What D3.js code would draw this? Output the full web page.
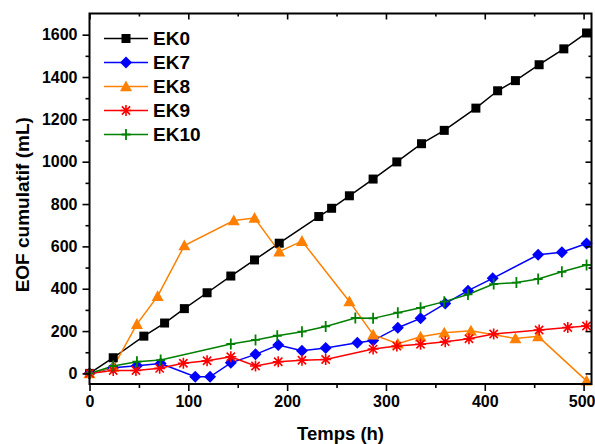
<!DOCTYPE html>
<html><head><meta charset="utf-8">
<script src="https://cdn.jsdelivr.net/npm/d3@7"></script>
<style>body{margin:0;background:#fff}svg{display:block}text{font-family:"Liberation Sans",Arial,sans-serif;font-weight:bold}</style>
</head><body><svg id="c" width="595" height="444"></svg>
<script>
// ---- data ----
const seriesNames = ["EK0", "EK7", "EK8", "EK9", "EK10"];
const ek0_t = [0, 24, 55, 76, 96, 119, 143, 167, 192, 232, 245, 263, 287, 311, 336, 359, 391, 413, 431, 455, 480, 503];
const ek0_v = [0, 74, 176, 238, 306, 381, 460, 536, 615, 741, 780, 839, 918, 999, 1085, 1148, 1253, 1335, 1383, 1458, 1533, 1608];
const ek7_t = [0, 24, 48, 72, 107, 122, 143, 168, 191, 215, 239, 271, 287, 312, 335, 360, 383, 408, 454, 478, 503];
const ek7_v = [0, 27, 36, 47, -16, -16, 50, 90, 134, 107, 120, 145, 155, 216, 260, 330, 391, 449, 560, 572, 614];
const ek8_t = [0, 24, 48, 69, 96, 146, 167, 192, 215, 263, 287, 312, 335, 359, 386, 431, 454, 503];
const ek8_v = [0, 30, 233, 365, 604, 722, 734, 575, 625, 340, 183, 140, 173, 192, 202, 165, 175, -35];
const ek9_t = [0, 24, 47, 71, 95, 119, 143, 168, 191, 215, 239, 287, 311, 335, 360, 384, 409, 455, 484, 503];
const ek9_v = [0, 14, 14, 24, 48, 60, 79, 35, 55, 62, 66, 115, 129, 138, 150, 164, 186, 205, 217, 224];
const ek10_t = [0, 24, 48, 72, 143, 168, 190, 215, 239, 269, 287, 312, 335, 359, 383, 409, 432, 454, 478, 503];
const ek10_v = [0, 35, 55, 63, 139, 158, 178, 197, 222, 262, 260, 287, 310, 339, 373, 422, 429, 446, 480, 512];
const xTicks = [0, 100, 200, 300, 400, 500];
const yTicks = [0, 200, 400, 600, 800, 1000, 1200, 1400, 1600];
const xTitle = "Temps (h)";
const yTitle = "EOF cumulatif (mL)";

const colors = ["#000000", "#0000FF", "#FF8000", "#FF0000", "#008000"];
const shapes = ["square", "diamond", "triangle", "star", "plus"];
const times = [ek0_t, ek7_t, ek8_t, ek9_t, ek10_t];
const vals = [ek0_v, ek7_v, ek8_v, ek9_v, ek10_v];
const series = seriesNames.map((n, i) => ({name: n, color: colors[i], shape: shapes[i],
  pts: times[i].map((t, j) => [t, vals[i][j]])}));

// ---- layout ----
const L = 89.5, R = 591.5, T = 13.5, B = 384;
const svg = d3.select("#c");
const x = d3.scaleLinear().domain([0, 508]).range([L, R]);
const y = d3.scaleLinear().domain([-50, 1700]).range([B, T]);

function marker(g, shape, color, cx, cy) {
  if (shape === "square") {
    g.append("rect").attr("x", cx - 4.5).attr("y", cy - 4.5).attr("width", 9).attr("height", 9).attr("fill", color);
  } else if (shape === "diamond") {
    const s = 6;
    g.append("path").attr("d", `M${cx},${cy - s}L${cx + s},${cy}L${cx},${cy + s}L${cx - s},${cy}Z`).attr("fill", color);
  } else if (shape === "triangle") {
    const s = 6;
    g.append("path").attr("d", `M${cx},${cy - s}L${cx + s},${cy + s * 0.8}L${cx - s},${cy + s * 0.8}Z`).attr("fill", color);
  } else if (shape === "star") {
    const s = 5.5, d = s * 0.75;
    g.append("path").attr("d", `M${cx - s},${cy}L${cx + s},${cy}M${cx},${cy - s}L${cx},${cy + s}M${cx - d},${cy - d}L${cx + d},${cy + d}M${cx - d},${cy + d}L${cx + d},${cy - d}`)
      .attr("stroke", color).attr("stroke-width", 1.6).attr("fill", "none");
  } else if (shape === "plus") {
    g.append("path").attr("d", `M${cx - 4.5},${cy}L${cx + 4.5},${cy}M${cx},${cy - 5.5}L${cx},${cy + 5.5}`)
      .attr("stroke", color).attr("stroke-width", 1.8).attr("fill", "none");
  }
}

const plot = svg.append("g");
const line = d3.line().x(d => x(d[0])).y(d => y(d[1]));
series.forEach(s => {
  plot.append("path").datum(s.pts).attr("d", line).attr("fill", "none")
    .attr("stroke", s.color).attr("stroke-width", 1.5);
});
series.forEach(s => {
  const g = plot.append("g");
  s.pts.forEach(p => marker(g, s.shape, s.color, x(p[0]), y(p[1])));
});

// ---- axes ----
const xMinor = d3.range(50, 510, 100);
const yMinor = d3.range(100, 1700, 200);
const bottom = svg.append("g").attr("transform", `translate(0,${B})`)
  .call(d3.axisBottom(x).tickValues(xTicks).tickSize(7).tickPadding(5).tickFormat(d3.format("d")));
svg.append("g").attr("transform", `translate(0,${B})`)
  .call(d3.axisBottom(x).tickValues(xMinor).tickSize(4).tickFormat(""));
const left = svg.append("g").attr("transform", `translate(${L},0)`)
  .call(d3.axisLeft(y).tickValues(yTicks).tickSize(7).tickPadding(5).tickFormat(d3.format("d")));
svg.append("g").attr("transform", `translate(${L},0)`)
  .call(d3.axisLeft(y).tickValues(yMinor).tickSize(4).tickFormat(""));
// mirror axes (inward ticks, no labels)
svg.append("g").attr("transform", `translate(0,${T})`)
  .call(d3.axisBottom(x).tickValues(xTicks).tickSize(6).tickFormat(""));
svg.append("g").attr("transform", `translate(0,${T})`)
  .call(d3.axisBottom(x).tickValues(xMinor).tickSize(3).tickFormat(""));
svg.append("g").attr("transform", `translate(${R},0)`)
  .call(d3.axisLeft(y).tickValues(yTicks).tickSize(6).tickFormat(""));
svg.append("g").attr("transform", `translate(${R},0)`)
  .call(d3.axisLeft(y).tickValues(yMinor).tickSize(3).tickFormat(""));
svg.selectAll(".domain").remove();
svg.selectAll(".tick line").attr("stroke", "#000").attr("stroke-width", 1.6);
svg.selectAll(".tick text").attr("fill", "#000").style("font-size", "16px").style("font-weight", "bold")
  .style("font-family", '"Liberation Sans", Arial, sans-serif');
// keep the last x label inside the canvas
bottom.selectAll(".tick text").filter(d => d === 500).attr("text-anchor", "end").attr("x", 595 - x(500));
// frame
svg.append("rect").attr("x", L).attr("y", T).attr("width", R - L).attr("height", B - T)
  .attr("fill", "none").attr("stroke", "#000").attr("stroke-width", 2);

// titles
svg.append("text").attr("x", (L + R) / 2).attr("y", 440).attr("text-anchor", "middle")
  .style("font-size", "18.5px").text(xTitle);
svg.append("text").attr("transform", `translate(29,${(T + B) / 2 + 6}) rotate(-90)`).attr("text-anchor", "middle")
  .style("font-size", "19px").text(yTitle);

// legend
const lg = svg.append("g");
series.forEach((s, i) => {
  const cy = 38.5 + i * 24;
  lg.append("line").attr("x1", 104).attr("x2", 148).attr("y1", cy).attr("y2", cy)
    .attr("stroke", s.color).attr("stroke-width", 1.5);
  marker(lg, s.shape, s.color, 126, cy);
  lg.append("text").attr("x", 153).attr("y", cy).attr("dy", "0.36em")
    .style("font-size", "19px").text(s.name);
});
</script></body></html>
